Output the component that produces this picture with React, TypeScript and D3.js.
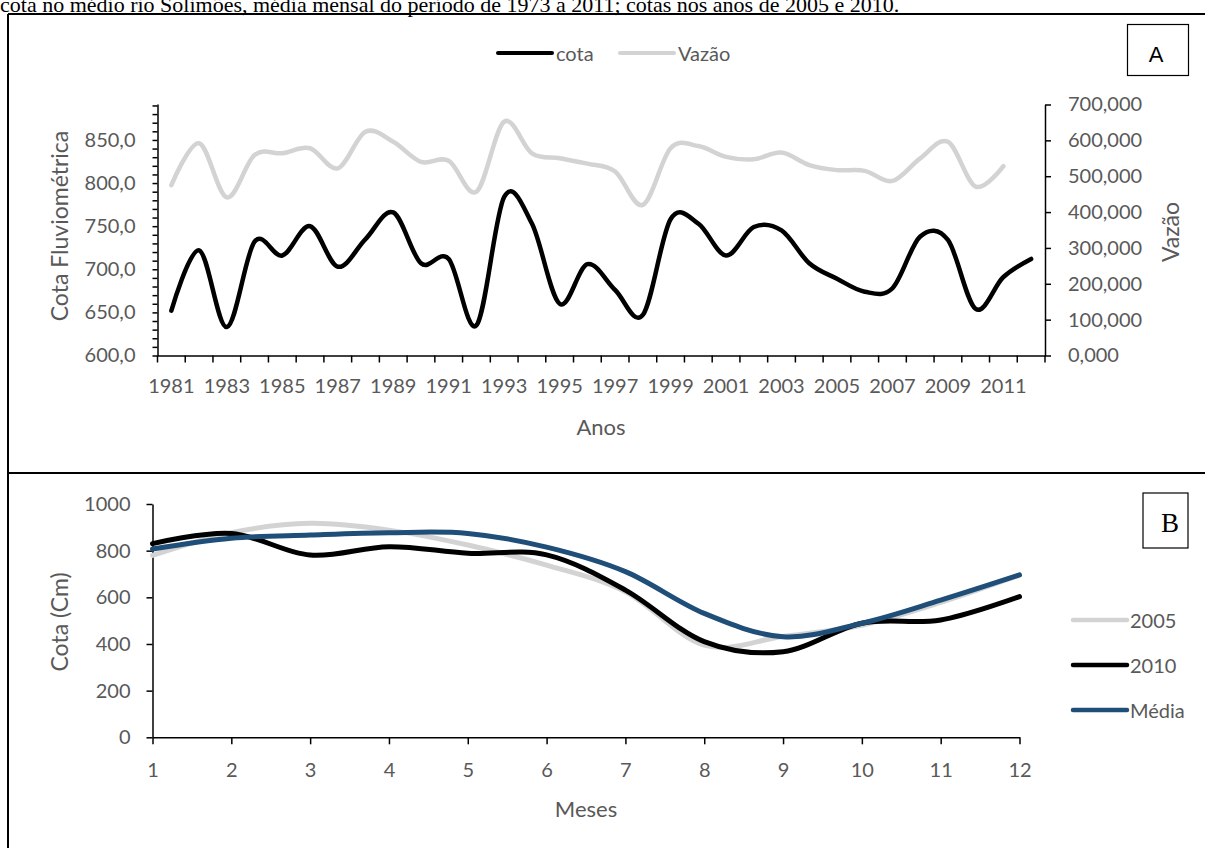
import React, { useEffect, useRef } from 'react'
import * as d3 from 'd3'

// painel A: anos, cota e vazão
const years = [1981, 1982, 1983, 1984, 1985, 1986, 1987, 1988, 1989, 1990, 1991, 1992, 1993, 1994, 1995, 1996,
  1997, 1998, 1999, 2000, 2001, 2002, 2003, 2004, 2005, 2006, 2007, 2008, 2009, 2010, 2011, 2012]
const cota = [652, 722, 633, 732, 716, 750, 703, 735, 766, 707, 712, 635, 784, 753, 660, 706,
  676, 647, 758, 753, 716, 749, 745, 707, 689, 674, 678, 738, 734, 654, 691, 712]
const vazao = [475, 592, 441, 559, 564, 578, 522, 624, 596, 540, 543, 457, 652, 564, 550, 535,
  513, 420, 578, 584, 554, 547, 566, 531, 517, 515, 487, 550, 596, 471, 528]
const cotaTicks = [600, 650, 700, 750, 800, 850]
const vazaoTicks = [0, 100, 200, 300, 400, 500, 600, 700]

// painel B: meses
const months = [1, 2, 3, 4, 5, 6, 7, 8, 9, 10, 11, 12]
const s2005 = [780, 877, 917, 888, 824, 738, 624, 395, 432, 480, 578, 695]
const s2010 = [830, 874, 781, 817, 789, 782, 631, 410, 367, 489, 503, 603]
const media = [807, 853, 867, 877, 874, 815, 710, 531, 431, 489, 588, 696]
const mesTicks = [0, 200, 400, 600, 800, 1000]

const FONT = 'Lato, "Open Sans", sans-serif'
const GREY = '#595959'

export default function App() {
  const ref = useRef<SVGSVGElement>(null)

  useEffect(() => {
    const svg = d3.select(ref.current)
    svg.selectAll('*').remove()

    // titulo cortado + moldura
    svg.append('text').attr('x', 0).attr('y', 12)
      .style('font-family', '"Liberation Serif", serif').style('font-size', '22px')
      .text('cota no médio rio Solimões, média mensal do período de 1973 a 2011; cotas nos anos de 2005 e 2010.')
    const frame = svg.append('g').attr('stroke', '#000').attr('stroke-width', 2)
    frame.append('line').attr('x1', 8).attr('x2', 8).attr('y1', 14).attr('y2', 848)
    frame.append('line').attr('x1', 8).attr('x2', 1205).attr('y1', 14).attr('y2', 14)
    frame.append('line').attr('x1', 8).attr('x2', 1205).attr('y1', 473).attr('y2', 473)

    const styleAxis = (g: any) => {
      g.select('.domain').attr('stroke', '#000').attr('stroke-width', 1.5)
      g.selectAll('.tick line').attr('stroke', '#000').attr('stroke-width', 1.5)
      g.selectAll('text').attr('fill', GREY).style('font-family', FONT).style('font-size', '20px')
    }
    const comma = (f: string) => (d: any) => d3.format(f)(d).replace('.', ',')

    // ---------- painel A ----------
    const x = d3.scaleBand<number>().domain(years).range([157.5, 1045]).padding(0)
    const yC = d3.scaleLinear().domain([600, 891.7]).range([355.5, 104])
    const yV = d3.scaleLinear().domain([0, 700]).range([355.5, 104.5])
    const cx = (d: number) => (x(d) as number) + x.bandwidth() / 2

    const gA = svg.append('g')

    gA.append('g').attr('transform', 'translate(157.5,0)')
      .call(d3.axisLeft(yC).tickValues(d3.range(600, 891, 10)).tickSize(5).tickSizeOuter(0).tickPadding(17)
        .tickFormat((d: any) => (cotaTicks.includes(+d) ? comma('.1f')(d) : '')))
      .call(styleAxis)

    gA.append('g').attr('transform', 'translate(1045,0)')
      .call(d3.axisRight(yV).tickValues(vazaoTicks).tickSize(6).tickSizeOuter(0).tickPadding(17)
        .tickFormat(comma('.3f')))
      .call(styleAxis)

    const xa = gA.append('g').attr('transform', 'translate(0,355.5)')
      .call(d3.axisBottom(x).tickSize(0).tickSizeOuter(0).tickPadding(23)
        .tickFormat((d: any) => ((d - 1981) % 2 === 0 ? String(d) : '')))
      .call(styleAxis)
    // marcas entre categorias
    xa.selectAll('line.sep').data([...years.map(d => x(d) as number), x.range()[1]])
      .enter().append('line').attr('class', 'sep')
      .attr('x1', d => d).attr('x2', d => d).attr('y1', 0).attr('y2', 7)
      .attr('stroke', '#000').attr('stroke-width', 1.5)

    const lineC = d3.line<number>().x((d, i) => cx(years[i])).y(d => yC(d)).curve(d3.curveCatmullRom.alpha(0))
    const lineV = d3.line<number>().x((d, i) => cx(years[i])).y(d => yV(d)).curve(d3.curveCatmullRom.alpha(0))
    gA.append('path').datum(vazao).attr('d', lineV).attr('fill', 'none')
      .attr('stroke', '#d3d3d3').attr('stroke-width', 4.5).attr('stroke-linecap', 'round')
    gA.append('path').datum(cota).attr('d', lineC).attr('fill', 'none')
      .attr('stroke', '#000').attr('stroke-width', 4.5).attr('stroke-linecap', 'round')

    const label = (g: any, txt: string, tx: number, ty: number, rot = 0, size = 23) =>
      g.append('text').attr('transform', `translate(${tx},${ty}) rotate(${rot})`)
        .attr('text-anchor', 'middle').attr('dominant-baseline', 'central')
        .attr('fill', GREY).style('font-family', FONT).style('font-size', `${size}px`).text(txt)

    label(gA, 'Cota Fluviométrica', 59, 226, -90)
    label(gA, 'Vazão', 1170, 232, -90)
    label(gA, 'Anos', 601, 426, 0, 22)

    // legenda A
    const legA = [{ n: 'cota', c: '#000', x0: 498 }, { n: 'Vazão', c: '#d3d3d3', x0: 620 }]
    legA.forEach(l => {
      gA.append('line').attr('x1', l.x0).attr('x2', l.x0 + 54).attr('y1', 53).attr('y2', 53)
        .attr('stroke', l.c).attr('stroke-width', 4).attr('stroke-linecap', 'round')
      gA.append('text').attr('x', l.x0 + 58).attr('y', 53).attr('dominant-baseline', 'central')
        .attr('fill', GREY).style('font-family', FONT).style('font-size', '20px').text(l.n)
    })

    gA.append('rect').attr('x', 1127.5).attr('y', 24.5).attr('width', 61).attr('height', 51)
      .attr('fill', '#fff').attr('stroke', '#000').attr('stroke-width', 1.2)
    gA.append('text').attr('x', 1156).attr('y', 62).attr('text-anchor', 'middle')
      .style('font-family', '"Liberation Sans", Arial, sans-serif').style('font-size', '22px').text('A')

    // ---------- painel B ----------
    const xB = d3.scalePoint<number>().domain(months).range([152.5, 1019.5])
    const yB = d3.scaleLinear().domain([0, 1000]).range([737.3, 504])
    const gB = svg.append('g')

    gB.append('g').attr('transform', 'translate(152.5,0)')
      .call(d3.axisLeft(yB).tickValues(mesTicks).tickSize(6).tickSizeOuter(0).tickPadding(16)
        .tickFormat(d3.format('d')))
      .call(styleAxis)
    gB.append('g').attr('transform', 'translate(0,737.3)')
      .call(d3.axisBottom(xB).tickSize(7).tickSizeOuter(0).tickPadding(19))
      .call(styleAxis)

    const lineB = d3.line<number>().x((d, i) => xB(months[i]) as number).y(d => yB(d))
      .curve(d3.curveCatmullRom.alpha(0))
    const seriesB = [
      { n: '2005', v: s2005, c: '#d3d3d3', ly: 620 },
      { n: '2010', v: s2010, c: '#000', ly: 665 },
      { n: 'Média', v: media, c: '#1f4e79', ly: 710 },
    ]
    seriesB.forEach(s => {
      gB.append('path').datum(s.v).attr('d', lineB).attr('fill', 'none')
        .attr('stroke', s.c).attr('stroke-width', 5).attr('stroke-linecap', 'round')
      gB.append('line').attr('x1', 1073).attr('x2', 1127).attr('y1', s.ly).attr('y2', s.ly)
        .attr('stroke', s.c).attr('stroke-width', 4.5).attr('stroke-linecap', 'round')
      gB.append('text').attr('x', 1130).attr('y', s.ly).attr('dominant-baseline', 'central')
        .attr('fill', GREY).style('font-family', FONT).style('font-size', '20px').text(s.n)
    })

    label(gB, 'Cota (Cm)', 59, 622, -90)
    label(gB, 'Meses', 586, 808, 0, 22)

    gB.append('rect').attr('x', 1143).attr('y', 493).attr('width', 45).attr('height', 55)
      .attr('fill', '#fff').attr('stroke', '#000').attr('stroke-width', 1.2)
    gB.append('text').attr('x', 1170).attr('y', 532).attr('text-anchor', 'middle')
      .style('font-family', '"Liberation Serif", serif').style('font-size', '27px').text('B')
  }, [])

  return (
    <svg ref={ref} width={1205} height={848}
      style={{ position: 'absolute', left: 0, top: 0, background: '#fff' }} />
  )
}
